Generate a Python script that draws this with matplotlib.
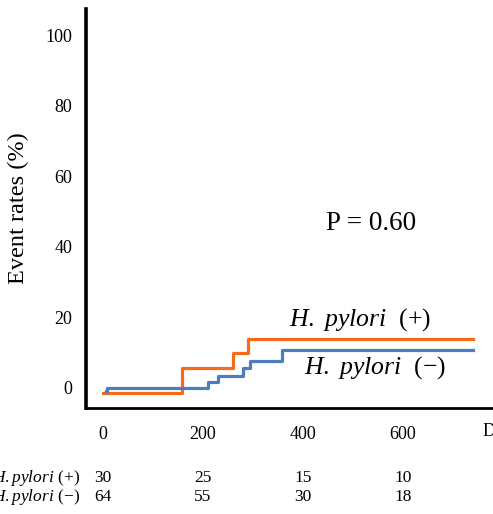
import matplotlib
matplotlib.use("Agg")
import matplotlib.pyplot as plt

# Kaplan-Meier style event curves
pos_days = [0, 157, 260, 290, 740]
pos_rate = [-1.5, 5.7, 9.9, 13.9, 13.9]
neg_days = [5, 7, 210, 230, 280, 294, 357, 740]
neg_rate = [-1, 0, 1.8, 3.4, 5.7, 7.5, 10.6, 10.6]

risk_days = [0, 200, 400, 600]
pos_at_risk = [30, 25, 15, 10]
neg_at_risk = [64, 55, 30, 18]

y_ticks = [0, 20, 40, 60, 80, 100]
x_ticks = [0, 200, 400, 600]

plt.rcParams['font.family'] = ['Liberation Serif', 'DejaVu Serif']
plt.rcParams['mathtext.fontset'] = 'custom'
plt.rcParams['mathtext.rm'] = 'Liberation Serif'
plt.rcParams['mathtext.it'] = 'Liberation Serif:italic'

orange = '#F8691C'
blue = '#4C7DBF'

W, H = 493, 514
fig = plt.figure(figsize=(W / 100, H / 100), dpi=100)
ax_left, ax_right, ax_top, ax_bottom = 86, 503, 9, 408
ax = fig.add_axes([ax_left / W, 1 - ax_bottom / H,
                   (ax_right - ax_left) / W, (ax_bottom - ax_top) / H])

ax.step(pos_days, pos_rate, where='post', color=orange, lw=2.3)
ax.step(neg_days, neg_rate, where='post', color=blue, lw=2.3)

ax.set_xlim(-34, 800)
ax.set_ylim(-5.7, 107.4)
ax.set_xticks(x_ticks)
ax.set_yticks(y_ticks)
ax.tick_params(length=0, labelsize=13)
ax.tick_params(axis='y', pad=10)
ax.tick_params(axis='x', pad=13)
for s in ['top', 'right']:
    ax.spines[s].set_visible(False)
ax.spines['left'].set_linewidth(2.6)
ax.spines['bottom'].set_linewidth(2)
ax.set_ylabel('Event rates (%)', fontsize=17.5, labelpad=12)

ax.text(536, 46.5, 'P = 0.60', fontsize=19.5, ha='center', va='center')
ax.text(514, 19.3, r'$\mathit{H.}$ $\mathit{pylori}$  (+)', fontsize=18.5,
        ha='center', va='center')
ax.text(544, 5.7, r'$\mathit{H.}$ $\mathit{pylori}$  (−)', fontsize=18.5,
        ha='center', va='center')

fig.text(483 / W, 1 - 432 / H, 'Days', fontsize=13, va='center')

# numbers at risk
tr = ax.get_xaxis_transform()
row1 = (ax_bottom - 478) / (ax_bottom - ax_top)
row2 = (ax_bottom - 497) / (ax_bottom - ax_top)
for d, n1, n2 in zip(risk_days, pos_at_risk, neg_at_risk):
    ax.text(d, row1, str(n1), transform=tr, ha='center', va='center',
            fontsize=12.5, clip_on=False)
    ax.text(d, row2, str(n2), transform=tr, ha='center', va='center',
            fontsize=12.5, clip_on=False)
fig.text(80 / W, 1 - 478 / H, r'$\mathit{H.pylori}$ (+)', fontsize=12.5,
         ha='right', va='center')
fig.text(80 / W, 1 - 497 / H, r'$\mathit{H.pylori}$ (−)', fontsize=12.5,
         ha='right', va='center')

fig.savefig('out.png', dpi=100)
